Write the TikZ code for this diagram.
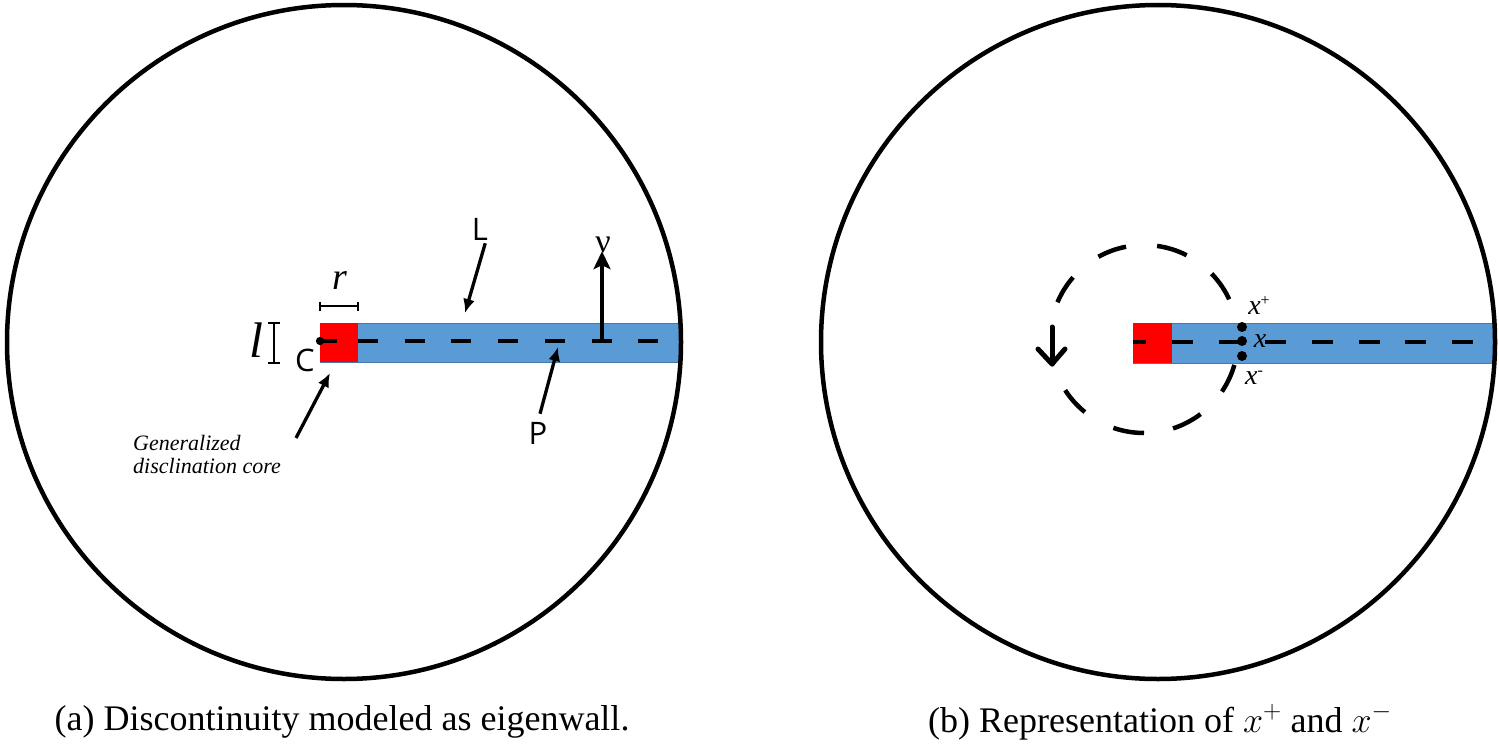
\RequirePackage{fix-cm}
\documentclass[tikz,border=0pt]{standalone}
\usepackage{fontspec}
\setmainfont{Liberation Serif}
\newfontfamily\labfont{Open Sans}
\usetikzlibrary{arrows.meta}
\definecolor{wallblue}{RGB}{91,155,213}
\definecolor{walledge}{RGB}{70,120,170}
\tikzset{
  rim/.style={line width=4.5pt},
  wall/.style={fill=wallblue, draw=walledge, line width=0.8pt},
  corefill/.style={fill=red, draw=none},
  midline/.style={line width=3.3pt},
  arr/.style={line width=3.3pt, -{Latex[length=14pt,width=12pt]}},
  dim/.style={line width=1.5pt},
  lab/.style={inner sep=0pt, font=\labfont\fontsize{31}{31}\selectfont},
  dot/.style={circle, fill=black, inner sep=0pt, minimum size=10pt},
  xlab/.style={inner sep=0pt, font=\itshape\fontsize{28}{28}\selectfont},
  captext/.style={inner sep=0pt, font=\fontsize{36}{40}\selectfont},
  contour/.style={line width=4.5pt}
}
\begin{document}
\begin{tikzpicture}[x=1pt,y=-1pt]
\useasboundingbox (0,0) rectangle (1499,752);

% ---------------- panel (a) ----------------
\fill[wall] (320,323) rectangle (681,362);
\fill[corefill] (320,323) rectangle (358,362);
\draw[rim] (344,342) circle[radius=337pt];
\draw[midline, dash pattern=on 20pt off 26.7pt] (358,341) -- (679,341);
\draw[midline, -{Circle[length=8pt]}] (337,341) -- (316,341);

% dimension r
\draw[dim] (320,306) -- (358,306);
\draw[dim] (320,301.5) -- (320,310.5);
\draw[dim] (358,301.5) -- (358,310.5);
\node[inner sep=0pt, font=\itshape\fontsize{38}{38}\selectfont] (r) at (340,281) {r};
% dimension l
\draw[dim] (274,323) -- (274,363);
\draw[dim] (268,323) -- (280,323);
\draw[dim] (268,363) -- (280,363);
\node[inner sep=0pt, font=\itshape\fontsize{50}{50}\selectfont] (l) at (256,340) {l};

% labels
\node[lab] (L) at (480,229) {L};
\node[lab] (C) at (305,360) {C};
\node[lab] (P) at (538,433) {P};
\node[inner sep=0pt, font=\fontsize{34}{34}\selectfont] (nu) at (603,245) {ν};
\node[inner sep=0pt, align=left, anchor=north west,
      font=\itshape\fontsize{22}{23}\selectfont] (gdc) at (133,435)
      {Generalized\\disclination core};

\coordinate (Ltip) at (465,313);
\coordinate (Ptip) at (558,347);
\coordinate (nubase) at (602,341);
\coordinate (coretip) at (330,373);
\coordinate (corestart) at (296,438);

\draw[arr] ([xshift=-3pt,yshift=-3pt]L.south east) -- (Ltip);
\draw[arr] ([xshift=2pt,yshift=8pt]P.north) -- (Ptip);
\draw[line width=3.3pt, -{Stealth[length=18pt,width=17pt,inset=4pt]}] (nubase) -- ([yshift=2pt]nu.south -| nubase);
\draw[arr] (corestart) -- (coretip);

\node[captext] (capa) at (342,722) {(a) Discontinuity modeled as eigenwall.};

% ---------------- panel (b) ----------------
\fill[wall] (1133,323) rectangle (1494,363);
\fill[corefill] (1133,323) rectangle (1172,363);
\draw[rim] (1158,342) circle[radius=337pt];
\draw[midline, dash pattern=on 21pt off 25.67pt, dash phase=7.7pt] (1133,342) -- (1493,342);

\node[dot] (xp) at (1242,327) {};
\node[dot] (x0) at (1242,341) {};
\node[dot] (xm) at (1242,356) {};
\node[xlab] (xpl) at (1259,305) {x\raisebox{9pt}{\upshape\fontsize{16}{16}\selectfont +}};
\node[xlab] (x0l) at (1260,341) {x};
\node[xlab] (xml) at (1254,378) {x\raisebox{9pt}{\upshape\fontsize{16}{16}\selectfont -}};

\coordinate (cc) at (1144,339);
\foreach \a/\b in {101/119, 139/157, -147/-129, -109/-90, -72/-53, -34/-16, 25/44, 63/82}{
  \draw[contour] ([shift={(\a:94pt)}]cc) arc[start angle=\a, end angle=\b, radius=94pt];
}
% rotation arrow
\coordinate (rtop) at (1052,327);
\coordinate (rtip) at (1052,364);
\draw[line width=5pt, line cap=round, line join=round] (rtop) -- (rtip);
\draw[line width=5pt, line cap=round, line join=round] (1038,349) -- (rtip) -- (1065,349);

\node[captext] (capb) at (1160,722) {(b) Representation of $x^{+}$ and $x^{-}$};
\end{tikzpicture}
\end{document}
